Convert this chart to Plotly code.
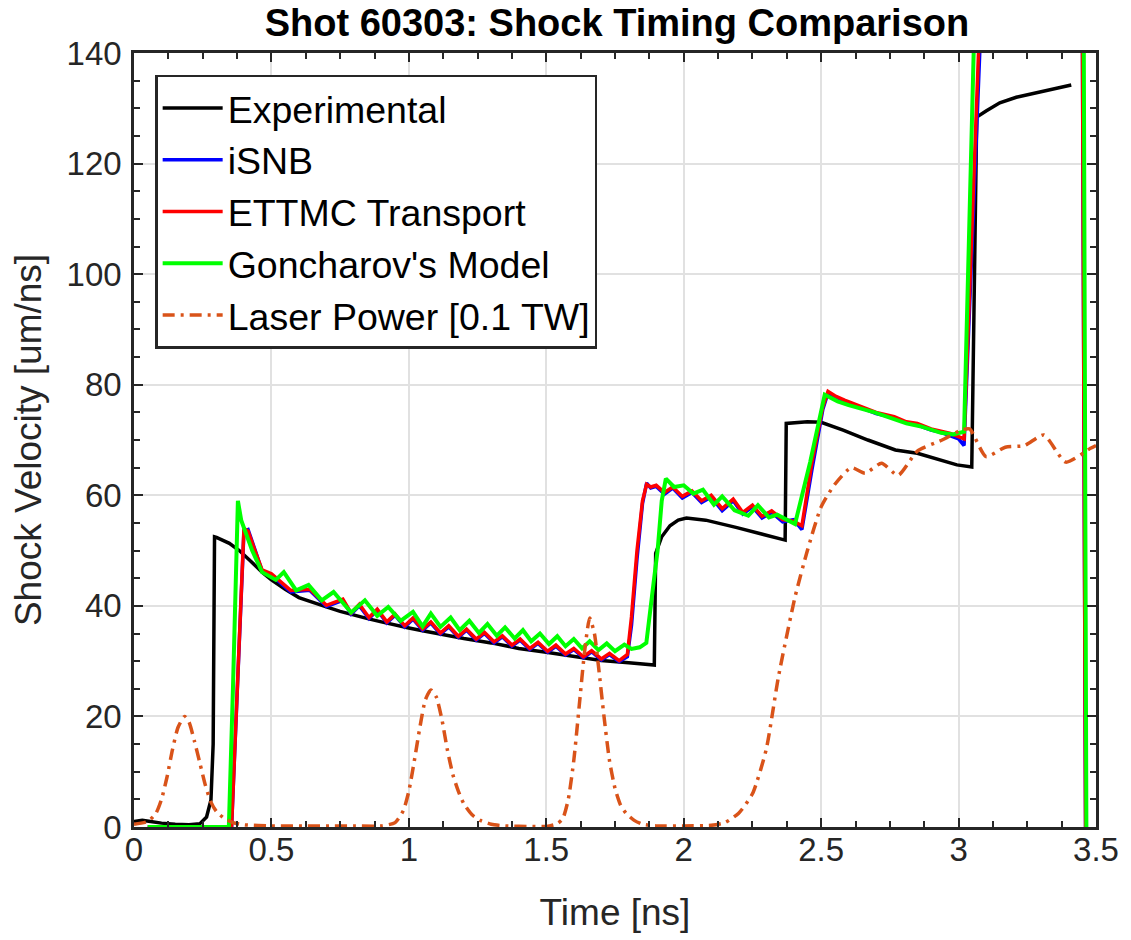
import plotly.graph_objects as go

# ---------------- data ----------------
exp_t = [0.00, 0.03, 0.06, 0.10, 0.15, 0.20, 0.24, 0.264, 0.28, 0.288, 0.293, 0.30, 0.347, 0.383, 0.42, 0.466,
         0.50, 0.55, 0.60, 0.65, 0.70, 0.75, 0.80, 0.85, 0.90, 0.95, 1.00, 1.05, 1.10, 1.20, 1.30, 1.40, 1.50,
         1.60, 1.70, 1.80, 1.893, 1.898, 1.92, 1.95, 1.98, 2.01, 2.08, 2.19, 2.28, 2.369, 2.373, 2.40, 2.45,
         2.50, 2.58, 2.67, 2.77, 2.85, 2.936, 2.994, 3.048, 3.066, 3.10, 3.15, 3.21, 3.30, 3.41]
exp_v = [1.0, 1.2, 1.0, 0.7, 0.5, 0.4, 0.6, 1.8, 4.9, 15, 52.5, 52.4, 51.3, 50.0, 48.3, 46.1,
         44.7, 43.0, 41.5, 40.6, 39.8, 39.0, 38.3, 37.7, 37.1, 36.5, 36.0, 35.5, 35.0, 34.1, 33.3, 32.3, 31.6,
         30.8, 30.1, 29.7, 29.3, 49.5, 52.5, 54.5, 55.5, 55.9, 55.5, 54.2, 53.0, 51.9, 73.0, 73.1, 73.3,
         73.2, 71.8, 70.0, 68.2, 67.6, 66.4, 65.5, 65.1, 128.4, 129.5, 131.0, 132.0, 133.0, 134.2]

isnb_t = [0.05, 0.355, 0.40, 0.415, 0.44, 0.466, 0.50, 0.57, 0.64, 0.70, 0.76, 0.79, 0.82, 0.855, 0.885, 0.92,
          0.95, 0.985, 1.015, 1.05, 1.08, 1.115, 1.145, 1.18, 1.21, 1.245, 1.275, 1.31, 1.34, 1.375, 1.405, 1.44,
          1.47, 1.505, 1.535, 1.57, 1.60, 1.635, 1.665, 1.70, 1.73, 1.765, 1.795, 1.81, 1.83, 1.85, 1.865, 1.88,
          1.90, 1.93, 1.96, 1.995, 2.03, 2.065, 2.10, 2.14, 2.18, 2.215, 2.25, 2.285, 2.32, 2.36, 2.40, 2.43,
          2.466, 2.506, 2.525, 2.55, 2.585, 2.647, 2.70, 2.766, 2.81, 2.85, 2.90, 2.936, 2.97, 3.00, 3.02, 3.085,
          3.45, 3.462]
isnb_v = [0, 0, 53.5, 53.8, 50.2, 46.3, 45.6, 42.5, 42.8, 39.9, 41.0, 38.5, 40.0, 37.7, 39.2, 36.9,
          38.3, 36.2, 37.6, 35.6, 36.9, 34.9, 36.2, 34.3, 35.6, 33.8, 35.0, 33.3, 34.4, 32.7, 33.8, 32.1,
          33.2, 31.6, 32.7, 31.1, 32.1, 30.6, 31.7, 30.2, 31.2, 29.9, 30.8, 36.5, 48.5, 58.5, 62.2, 61.3,
          61.6, 60.2, 61.3, 59.5, 60.5, 58.7, 59.7, 57.2, 59.0, 56.6, 57.9, 55.9, 56.9, 55.2, 55.6, 53.8,
          64.5, 75.5, 78.5, 77.8, 77.0, 75.8, 74.8, 74.0, 73.1, 72.7, 71.8, 71.4, 70.8, 70.2, 69.0, 150,
          150, 0]

ettmc_t = [0.05, 0.355, 0.40, 0.415, 0.44, 0.466, 0.50, 0.57, 0.64, 0.70, 0.76, 0.79, 0.82, 0.855, 0.885, 0.92,
           0.95, 0.985, 1.015, 1.05, 1.08, 1.115, 1.145, 1.18, 1.21, 1.245, 1.275, 1.31, 1.34, 1.375, 1.405, 1.44,
           1.47, 1.505, 1.535, 1.57, 1.60, 1.635, 1.665, 1.70, 1.73, 1.765, 1.795, 1.81, 1.83, 1.85, 1.865, 1.88,
           1.90, 1.93, 1.96, 1.995, 2.03, 2.065, 2.10, 2.14, 2.18, 2.215, 2.25, 2.285, 2.32, 2.36, 2.40, 2.43,
           2.466, 2.506, 2.525, 2.55, 2.585, 2.647, 2.70, 2.766, 2.81, 2.85, 2.90, 2.936, 2.97, 3.00, 3.02, 3.08,
           3.45, 3.462]
ettmc_v = [0, 0, 54.0, 53.5, 50.0, 46.5, 45.8, 42.8, 43.0, 40.1, 41.2, 38.7, 40.3, 37.9, 39.4, 37.1,
           38.5, 36.4, 37.8, 35.8, 37.1, 35.1, 36.4, 34.5, 35.8, 34.0, 35.2, 33.5, 34.6, 32.9, 34.0, 32.3,
           33.4, 31.8, 32.9, 31.3, 32.3, 30.8, 31.9, 30.4, 31.4, 30.1, 31.2, 38.0, 50.0, 59.0, 62.0, 61.5,
           61.8, 60.5, 61.5, 59.8, 60.8, 59.0, 60.0, 57.6, 59.3, 56.9, 58.2, 56.2, 57.2, 55.6, 55.3, 54.5,
           65.8, 76.0, 78.8, 78.0, 77.2, 76.0, 75.0, 74.2, 73.3, 73.0, 72.0, 71.6, 71.2, 70.6, 70.2, 150,
           150, 0]

gon_t = [0.05, 0.345, 0.36, 0.378, 0.39, 0.43, 0.466, 0.516, 0.545, 0.59, 0.635, 0.683, 0.726, 0.79, 0.84,
         0.885, 0.925, 0.97, 1.015, 1.05, 1.08, 1.115, 1.152, 1.185, 1.22, 1.255, 1.286, 1.32, 1.35, 1.385,
         1.415, 1.445, 1.477, 1.51, 1.54, 1.57, 1.60, 1.63, 1.658, 1.69, 1.72, 1.75, 1.784, 1.81, 1.84, 1.864,
         1.89, 1.905, 1.92, 1.935, 1.965, 2.0, 2.035, 2.07, 2.11, 2.14, 2.185, 2.235, 2.27, 2.31, 2.34, 2.405,
         2.46, 2.513, 2.56, 2.60, 2.694, 2.75, 2.81, 2.86, 2.936, 2.98, 3.02, 3.06, 3.455, 3.465]
gon_v = [0, 0, 25.0, 59.0, 55.5, 50.0, 46.1, 44.7, 46.1, 42.8, 43.8, 41.0, 42.5, 38.8, 41.0,
         38.2, 39.8, 37.3, 38.9, 36.3, 38.6, 36.2, 37.9, 35.6, 37.3, 35.1, 36.7, 34.6, 36.1, 34.1,
         35.6, 33.6, 35.0, 33.1, 34.5, 32.7, 34.0, 32.3, 33.6, 32.0, 33.2, 31.8, 33.0, 32.2, 32.5, 33.3,
         44.0, 50.0, 59.0, 63.0, 61.5, 61.8, 60.3, 61.0, 58.3, 59.8, 57.3, 56.3, 58.2, 56.0, 56.5, 54.8,
         66.0, 78.2, 77.0, 76.3, 75.0, 74.0, 73.0, 72.5, 71.3, 71.0, 71.5, 150, 150, 0]

laser_t = [0.00, 0.05, 0.08, 0.10, 0.12, 0.14, 0.16, 0.184, 0.20, 0.22, 0.24, 0.26, 0.28, 0.30, 0.33, 0.36,
           0.40, 0.50, 0.60, 0.70, 0.80, 0.90, 0.95, 0.98, 1.00, 1.02, 1.04, 1.06, 1.08, 1.10, 1.12, 1.14,
           1.16, 1.18, 1.20, 1.23, 1.26, 1.30, 1.35, 1.45, 1.50, 1.54, 1.56, 1.58, 1.60, 1.62, 1.64, 1.658,
           1.675, 1.69, 1.71, 1.73, 1.75, 1.77, 1.79, 1.82, 1.85, 1.90, 2.00, 2.10, 2.15, 2.20, 2.25, 2.30,
           2.344, 2.405, 2.45, 2.50, 2.55, 2.61, 2.66, 2.72, 2.78, 2.85, 2.94, 3.01, 3.04, 3.10, 3.17, 3.24,
           3.31, 3.39, 3.48, 3.50]
laser_v = [0.5, 1.0, 2.5, 5.0, 9.0, 14.0, 18.0, 20.0, 19.0, 15.5, 11.5, 7.5, 4.5, 2.8, 1.5, 0.8,
           0.4, 0.2, 0.2, 0.2, 0.2, 0.2, 0.8, 3.0, 6.5, 12.0, 18.0, 23.0, 24.8, 23.5, 19.5, 14.0,
           9.5, 6.5, 4.2, 2.2, 1.2, 0.5, 0.2, 0.1, 0.1, 0.6, 1.5, 5.0, 12.0, 22.0, 32.0, 37.8,
           35.0, 29.0, 20.0, 12.0, 7.0, 4.0, 2.5, 1.2, 0.5, 0.2, 0.2, 0.3, 0.8, 2.5, 6.0, 14.0,
           27.0, 41.6, 50.0, 57.9, 62.0, 65.0, 64.0, 65.8, 63.6, 68.0, 70.0, 71.8, 72.0, 67.0, 68.7, 69.0,
           70.9, 66.0, 68.5, 69.0]

x_tickvals = [0, 0.5, 1, 1.5, 2, 2.5, 3, 3.5]
x_ticktext = ["0", "0.5", "1", "1.5", "2", "2.5", "3", "3.5"]
y_tickvals = [0, 20, 40, 60, 80, 100, 120, 140]
y_ticktext = ["0", "20", "40", "60", "80", "100", "120", "140"]

series_names = ["Experimental", "iSNB", "ETTMC Transport", "Goncharov's Model", "Laser Power [0.1 TW]"]

# ---------------- figure ----------------
FONT = "Liberation Sans, Arial, Helvetica, sans-serif"
AX = "#262626"

fig = go.Figure()
fig.add_trace(go.Scatter(x=exp_t, y=exp_v, mode="lines", name=series_names[0], legendgroup="g1",
                         line=dict(color="#000000", width=3.5)))
fig.add_trace(go.Scatter(x=isnb_t, y=isnb_v, mode="lines", name=series_names[1], legendgroup="g2",
                         line=dict(color="#0000ff", width=3.5)))
fig.add_trace(go.Scatter(x=ettmc_t, y=ettmc_v, mode="lines", name=series_names[2], legendgroup="g3",
                         line=dict(color="#ff0000", width=3.5)))
fig.add_trace(go.Scatter(x=gon_t, y=gon_v, mode="lines", name=series_names[3], legendgroup="g4",
                         line=dict(color="#00ff00", width=4)))
fig.add_trace(go.Scatter(x=laser_t, y=laser_v, mode="lines", name=series_names[4], legendgroup="g5",
                         line=dict(color="#D95319", width=3.5, dash="12px,6px,3px,6px", shape="spline",
                                   smoothing=0.6)))

axis_common = dict(
    showgrid=True, gridcolor="#e1e1e1", gridwidth=2,
    showline=True, linecolor=AX, linewidth=2.5, mirror="ticks",
    ticks="inside", ticklen=9, tickwidth=2, tickcolor=AX,
    zeroline=False,
    tickfont=dict(family=FONT, size=33, color=AX),
)

fig.update_xaxes(range=[0, 3.5], tickmode="array", tickvals=x_tickvals, ticktext=x_ticktext,
                 ticklabelstandoff=-8,
                 minor=dict(ticks="inside", ticklen=6, tickwidth=2, tickcolor=AX, dtick=0.125, tick0=0,
                            showgrid=False),
                 title=dict(text="Time [ns]", font=dict(family=FONT, size=37, color=AX), standoff=32),
                 **axis_common)
fig.update_yaxes(range=[0, 140], tickmode="array", tickvals=y_tickvals, ticktext=y_ticktext,
                 ticklabelstandoff=3,
                 minor=dict(ticks="inside", ticklen=6, tickwidth=2, tickcolor=AX, dtick=5, tick0=0,
                            showgrid=False),
                 title=dict(text="Shock Velocity [um/ns]", font=dict(family=FONT, size=37, color=AX),
                            standoff=14),
                 **axis_common)

fig.update_layout(
    width=1131, height=940,
    margin=dict(l=134, r=28, t=53, b=113),
    plot_bgcolor="white", paper_bgcolor="white",
    font=dict(family=FONT, size=33, color=AX),
    title=dict(text="<b>Shot 60303: Shock Timing Comparison</b>", x=0.5455, xanchor="center",
               y=0.976, yanchor="middle", font=dict(family=FONT, size=38, color="#000000")),
    legend=dict(x=0.022, y=0.972, xanchor="left", yanchor="top", bgcolor="white",
                bordercolor=AX, borderwidth=2.5, font=dict(family=FONT, size=37.5, color="#000000"),
                itemwidth=60, tracegroupgap=0),
    showlegend=True,
)

fig.write_html("out.html")
